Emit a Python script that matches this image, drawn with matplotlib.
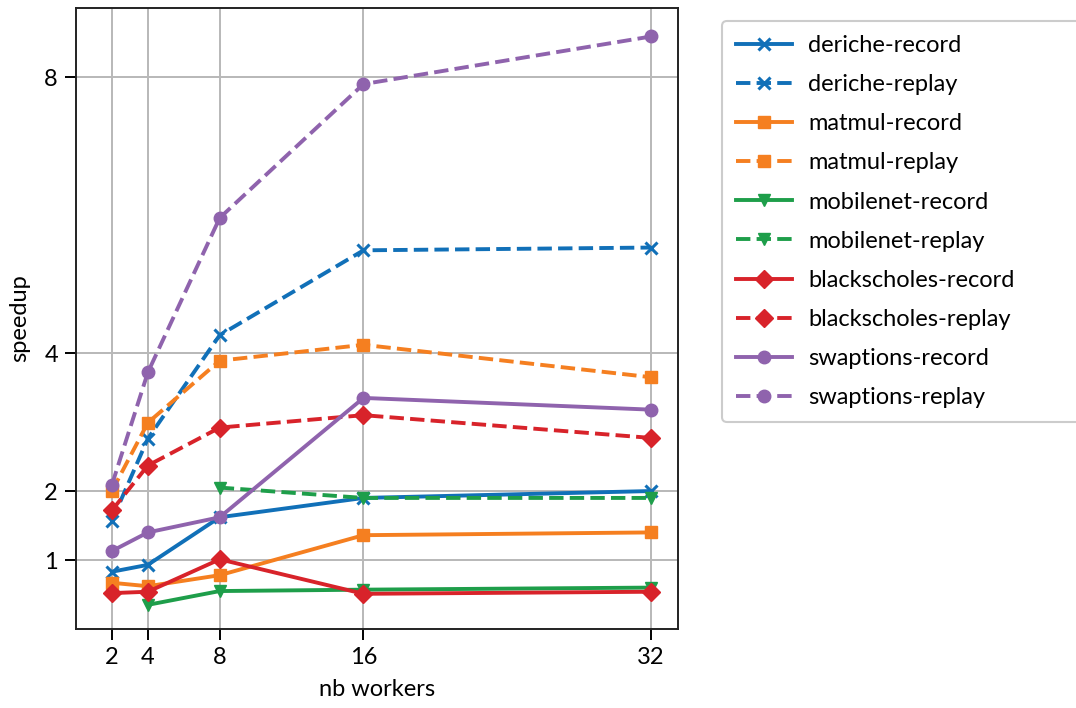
import matplotlib
matplotlib.use("Agg")
import matplotlib.pyplot as plt

plt.rcParams["font.family"] = ["Lato", "DejaVu Sans"]

workers = [2, 4, 8, 16, 32]
workers_mobilenet_record = [4, 8, 16, 32]
workers_mobilenet_replay = [8, 16, 32]

deriche_record = [0.83, 0.93, 1.62, 1.90, 2.00]
deriche_replay = [1.57, 2.76, 4.26, 5.49, 5.53]
matmul_record = [0.67, 0.62, 0.78, 1.36, 1.40]
matmul_replay = [2.00, 2.99, 3.89, 4.12, 3.65]
mobilenet_record = [0.35, 0.55, 0.57, 0.60]
mobilenet_replay = [2.05, 1.90, 1.90]
blackscholes_record = [0.52, 0.54, 1.01, 0.51, 0.54]
blackscholes_replay = [1.72, 2.37, 2.92, 3.10, 2.77]
swaptions_record = [1.13, 1.40, 1.62, 3.35, 3.18]
swaptions_replay = [2.09, 3.72, 5.96, 7.90, 8.59]

xticks = [2, 4, 8, 16, 32]
yticks = [1, 2, 4, 8]

colors = {
    "deriche": "#1170b8",
    "matmul": "#f57f20",
    "mobilenet": "#1e9e4a",
    "blackscholes": "#d8232a",
    "swaptions": "#8f63ad",
}
markers = {
    "deriche": "x",
    "matmul": "s",
    "mobilenet": "v",
    "blackscholes": "D",
    "swaptions": "o",
}

series = [
    ("deriche", "record", workers, deriche_record),
    ("deriche", "replay", workers, deriche_replay),
    ("matmul", "record", workers, matmul_record),
    ("matmul", "replay", workers, matmul_replay),
    ("mobilenet", "record", workers_mobilenet_record, mobilenet_record),
    ("mobilenet", "replay", workers_mobilenet_replay, mobilenet_replay),
    ("blackscholes", "record", workers, blackscholes_record),
    ("blackscholes", "replay", workers, blackscholes_replay),
    ("swaptions", "record", workers, swaptions_record),
    ("swaptions", "replay", workers, swaptions_replay),
]

fig = plt.figure(figsize=(10.76, 7.08), dpi=100)
ax = fig.add_axes([0.0706, 0.1116, 0.5595, 0.877])

for bench, mode, xs, ys in series:
    m = markers[bench]
    ax.plot(xs, ys, color=colors[bench], marker=m,
            linestyle="-" if mode == "record" else "--",
            linewidth=2.8, markersize=9 if m != "x" else 8.5,
            markeredgewidth=2.2 if m == "x" else 1,
            label=f"{bench}-{mode}", zorder=3)

ax.set_xlim(left=0)
ax.set_ylim(bottom=0)
ax.set_xticks(xticks)
ax.set_yticks(yticks)
ax.grid(True, color="#b8b8b8", linewidth=1.4)
ax.set_axisbelow(True)
for s in ax.spines.values():
    s.set_linewidth(1.4)
    s.set_color("#222222")
ax.tick_params(direction="out", length=8, width=1.4, labelsize=17, pad=5)
ax.set_xlabel("nb workers", fontsize=17, labelpad=8)
ax.set_ylabel("speedup", fontsize=17, labelpad=10)

# legend sits right of the axes and runs off the figure edge, like the original
leg = ax.legend(loc="upper left", bbox_to_anchor=(1.073, 0, 0.68, 0.979),
                mode="expand", borderaxespad=0,
                fontsize=17, handlelength=2.4, labelspacing=0.77, borderpad=0.58,
                handletextpad=0.68, frameon=True, fancybox=True,
                edgecolor="#cccccc", framealpha=1)
leg.get_frame().set_linewidth(1.5)

fig.savefig("out.png", dpi=100)
